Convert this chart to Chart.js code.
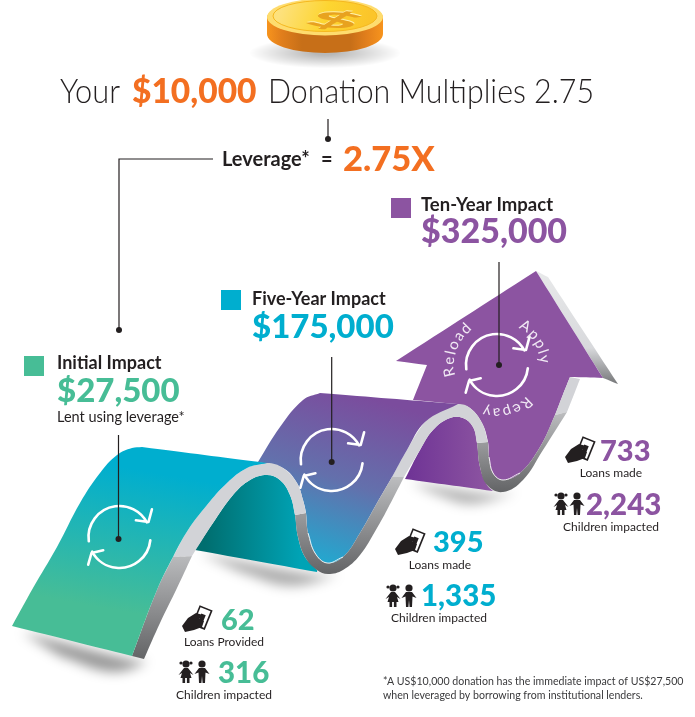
<!DOCTYPE html>
<html>
<head>
<meta charset="utf-8">
<title>Your $10,000 Donation Multiplies 2.75</title>
<style>
  html, body { margin: 0; background: #fff; }
  canvas { display: block; }
</style>
<script src="https://cdn.jsdelivr.net/npm/chart.js@4/dist/chart.umd.js"></script>
</head>
<body>
<canvas id="chart" width="695" height="717"></canvas>
<script>
const donation = 10000;
const multiplier = 2.75;
const stages = ["Initial Impact", "Five-Year Impact", "Ten-Year Impact"];
const impact = [27500, 175000, 325000];
const loans = [62, 395, 733];
const loanLabels = ["Loans Provided", "Loans made", "Loans made"];
const children = [316, 1335, 2243];
const loopWords = ["Reload", "Apply", "Repay"];

// ribbon outlines
const face1Left = [[12,626],[33,588],[57,547],[80,503],[100,473],[117,455],[132,448],[142,447]];
const leg1Inner = [[132,656],[157,590],[173,557]];
const peak1Left = [[173,557],[188,530],[207,505],[227,483],[247,468],[267,463],[283,468],[297,483],[303,500],[306,513]];
const face2Left = [[258,462],[280,427],[303,400],[320,393]];
const trough1Right = [[306,513],[308,533],[315,553],[327,563],[343,557],[360,533],[377,503],[392,477]];
const peak2Left = [[392,477],[407,450],[425,422],[443,408],[458,404],[470,408],[482,423],[488,442]];
const trough2Left = [[488,442],[489,457],[493,473],[503,480],[520,473],[540,447],[555,415]];
const stemLeft = [[555,415],[562,397],[570,377]];
const leg1Under = [[144,659],[160,623],[177,588],[192,556]];
const peak1Under = [[192,556],[213,523],[233,495],[250,480],[267,475],[280,480],[290,495],[295,515]];
const trough1Under = [[295,515],[298,537],[305,557],[317,570],[328,574],[343,570],[360,555],[377,528],[387,510],[404,477]];
const peak2Under = [[404,477],[420,450],[433,430],[450,418],[463,418],[473,427],[477,443]];
const trough2Under = [[477,443],[480,467],[487,485],[503,492],[523,480],[543,450],[567,412]];
const stemUnder = [[567,412],[573,397],[580,379]];
const arrowHead = [[570,377],[603,378],[536,271],[396,361],[427,365],[413,400],[457,404]];
const arrowSide = [[536,271],[548,277],[618,384],[603,378]];
const shadow1 = [[22,632],[132,660],[146,662],[112,672],[60,656]];
const shadow2 = [[200,553],[318,575],[338,574],[290,586],[240,572]];
const shadow3 = [[410,482],[493,494],[515,492],[470,504],[435,494]];
const leaderElbow = [[213,159],[119,159],[119,330]];
const leaderTop = [[328,119],[328,139]];
const leaders = [[[118.5,435],[118.5,539]], [[331.7,357],[331.7,462]], [[499,262],[499,365]]];

const GREEN = "#47bd96", CYAN = "#00aecf", PURPLE = "#8c54a1", ORANGE = "#f36f21", INK = "#231f20";
const LIGHT = "#d2d3d7";
const FONT = "Lato, 'Noto Sans', sans-serif";

const toPoints = pts => pts.map(([x, y]) => ({ x, y }));
const rev = pts => pts.slice().reverse();
// a doubled point gives a hard corner in the spline
const sharp = pts => pts.flatMap(p => [p, p]);
const band = (a, b) => [a[0], ...a, a[a.length - 1], b[b.length - 1], ...rev(b), b[0]];

const grad = (x0, y0, x1, y1, stops) => c => {
  const { x, y } = c.chart.scales;
  if (!c.chart.chartArea || !x || !isFinite(x.getPixelForValue(x0))) return "transparent";
  const g = c.chart.ctx.createLinearGradient(x.getPixelForValue(x0), y.getPixelForValue(y0), x.getPixelForValue(x1), y.getPixelForValue(y1));
  stops.forEach(([o, col]) => g.addColorStop(o, col));
  return g;
};

const shape = (pts, color, order) => ({
  data: toPoints(pts), fill: "shape", backgroundColor: color, borderWidth: 0, pointRadius: 0, tension: 0.4, order
});
const stroke = (pts, color, width, order, dot) => ({
  data: toPoints(pts), fill: false, borderColor: color, borderWidth: width, tension: dot === undefined ? 0.4 : 0, order,
  pointRadius: c => (dot && c.dataIndex === pts.length - 1 ? 3 : 0), pointBackgroundColor: color, pointBorderWidth: 0
});

const darkStrip = (y0, y1) => grad(0, y0, 0, y1, [[0, "#bcbdbf"], [1, "#636466"]]);

// higher order is painted first
const datasets = [
  shape(shadow1, "rgba(0,0,0,.4)", 100),
  shape(shadow2, "rgba(0,0,0,.32)", 99),
  shape(shadow3, "rgba(0,0,0,.3)", 98),
  shape([...sharp([[405,479]]), ...peak2Under.slice(1), [480,467], [487,485], ...sharp([[493,491]]), [405,479]],
    grad(410, 0, 490, 0, [[0, "#703596"], [1, "#8d55a1"]]), 50),
  shape(sharp(arrowSide), grad(0, 271, 0, 384, [[0, "#e8e9ea"], [0.68, "#d8d9dc"], [1, "#77787a"]]), 49),
  shape([...sharp(arrowHead), ...peak2Left.slice(5), ...trough2Left.slice(1), ...stemLeft.slice(1), [570,377]], PURPLE, 48),
  shape(band(stemLeft, stemUnder), LIGHT, 47),
  shape(band(trough2Left, trough2Under), darkStrip(412, 492), 46),
  shape(band(peak2Left, peak2Under), LIGHT, 45),
  shape([...sharp([[258,462]]), ...face2Left.slice(1), ...sharp([[320,393],[458,404]]), ...rev(peak2Left).slice(5), ...rev(trough1Right).slice(1), ...rev(peak1Left).slice(1, 4), [258,462]],
    grad(372, 398, 318, 566, [[0, "#7b4c9d"], [0.5, "#6370ac"], [1, "#1fabd1"]]), 44),
  shape([[195,550], [195,550], ...peak1Under.slice(1), ...trough1Under.slice(1, 4), [317,572], [317,572], [195,550]],
    grad(205, 0, 300, 0, [[0, "#006e6f"], [1, "#00a3b5"]]), 43),
  shape(band(trough1Right, trough1Under), darkStrip(477, 574), 42),
  shape(band(peak1Left, peak1Under), LIGHT, 41),
  shape(band(leg1Inner, leg1Under), darkStrip(553, 659), 40),
  shape([...sharp([face1Left[0]]), ...face1Left.slice(1), ...sharp([[142,447],[267,463]]), ...rev(peak1Left.slice(0, 5)), ...rev(leg1Inner).slice(1, 2), ...sharp([[132,656]]), face1Left[0]],
    grad(140, 470, 115, 610, [[0, CYAN], [1, GREEN]]), 39),
  stroke(trough1Right.slice(1, 5), "rgba(255,255,255,.85)", 1, 20),
  stroke(trough2Left.slice(1, 5), "rgba(255,255,255,.85)", 1, 20),
  stroke(leaderElbow, INK, 1.2, 2, true),
  stroke(leaderTop, INK, 1.2, 2, true),
  ...leaders.map(l => stroke(l, INK, 1.2, 2, true))
];

const money = v => "$" + v.toLocaleString("en-US");

const drawLoop = (ctx, cx, cy) => {
  const r = 31, d = Math.PI / 180;
  ctx.save();
  ctx.strokeStyle = "#fff";
  ctx.lineWidth = 2.6;
  ctx.lineCap = "round";
  ctx.lineJoin = "round";
  ctx.beginPath();
  ctx.arc(cx, cy, r, 172 * d, 332 * d);
  ctx.moveTo(cx + 16.4, cy - 16.7);
  ctx.lineTo(cx + 29, cy - 15);
  ctx.lineTo(cx + 32.4, cy - 27.7);
  ctx.moveTo(cx + r * Math.cos(6 * d), cy + r * Math.sin(6 * d));
  ctx.arc(cx, cy, r, 6 * d, 152 * d);
  ctx.moveTo(cx - 16.3, cy + 13.3);
  ctx.lineTo(cx - 28, cy + 16);
  ctx.lineTo(cx - 31.3, cy + 27.7);
  ctx.stroke();
  ctx.restore();
};

// letters set one by one on a circle, reading clockwise
const arcWord = (ctx, word, cx, cy, r, startDeg) => {
  ctx.save();
  ctx.fillStyle = "#f1e9f4";
  ctx.font = "400 15px " + FONT;
  ctx.textAlign = "left";
  let a = startDeg * Math.PI / 180;
  for (const ch of word) {
    const w = ctx.measureText(ch).width + 1.4;
    ctx.save();
    ctx.translate(cx + r * Math.cos(a), cy + r * Math.sin(a));
    ctx.rotate(a + Math.PI / 2);
    ctx.fillText(ch, 0, 0);
    ctx.restore();
    a += w / r;
  }
  ctx.restore();
};

const drawHand = (ctx, x, y) => {
  ctx.save();
  ctx.translate(x, y);
  ctx.save();
  ctx.translate(20, 10);
  ctx.rotate(22 * Math.PI / 180);
  ctx.fillStyle = INK;
  ctx.fillRect(-7, -11, 14, 21);
  ctx.fillStyle = "#fff";
  ctx.fillRect(-5.4, -9.4, 10.8, 17.8);
  ctx.fillStyle = INK;
  ctx.fillRect(-2.4, -4, 4.8, 7);
  ctx.restore();
  ctx.fillStyle = INK;
  ctx.beginPath();
  ctx.moveTo(0, 18);
  ctx.lineTo(6, 10);
  ctx.lineTo(14, 5);
  ctx.lineTo(21, 7);
  ctx.lineTo(17, 11);
  ctx.lineTo(22, 13);
  ctx.lineTo(20, 19);
  ctx.lineTo(12, 22);
  ctx.lineTo(3, 24);
  ctx.closePath();
  ctx.fill();
  ctx.restore();
};

const drawKids = (ctx, x, y) => {
  ctx.save();
  ctx.translate(x, y);
  ctx.fillStyle = INK;
  // girl
  ctx.beginPath();
  ctx.arc(8, 4, 3.6, 0, 7);
  ctx.fill();
  ctx.beginPath();
  ctx.arc(3, 3, 1.6, 0, 7);
  ctx.fill();
  ctx.beginPath();
  ctx.arc(13, 3, 1.6, 0, 7);
  ctx.fill();
  ctx.beginPath();
  ctx.moveTo(6, 8);
  ctx.lineTo(10, 8);
  ctx.lineTo(15.5, 15);
  ctx.lineTo(12, 13);
  ctx.lineTo(13.5, 18);
  ctx.lineTo(2.5, 18);
  ctx.lineTo(4, 13);
  ctx.lineTo(0.5, 15);
  ctx.closePath();
  ctx.fill();
  ctx.fillRect(4.5, 18, 2.6, 5);
  ctx.fillRect(8.9, 18, 2.6, 5);
  // boy
  ctx.beginPath();
  ctx.arc(24, 4, 3.6, 0, 7);
  ctx.fill();
  ctx.beginPath();
  ctx.moveTo(21, 8);
  ctx.lineTo(27, 8);
  ctx.lineTo(31.5, 14);
  ctx.lineTo(27.5, 12.5);
  ctx.lineTo(27, 23);
  ctx.lineTo(24.6, 23);
  ctx.lineTo(24, 16);
  ctx.lineTo(23.4, 23);
  ctx.lineTo(21, 23);
  ctx.lineTo(20.5, 12.5);
  ctx.lineTo(16.5, 14);
  ctx.closePath();
  ctx.fill();
  ctx.restore();
};

const drawCoin = (ctx) => {
  const cx = 325, rx = 58;
  ctx.save();
  // soft shadow on the page
  ctx.save();
  ctx.translate(cx, 53);
  ctx.scale(1, 0.2);
  const sh = ctx.createRadialGradient(0, 0, 10, 0, 0, 76);
  sh.addColorStop(0, "rgba(0,0,0,.28)");
  sh.addColorStop(1, "rgba(0,0,0,0)");
  ctx.fillStyle = sh;
  ctx.fillRect(-80, -80, 160, 160);
  ctx.restore();
  // rim
  const rim = ctx.createLinearGradient(cx - rx, 0, cx + rx, 0);
  [[0, "#f7941d"], [0.12, "#e27f1c"], [0.3, "#c76f18"], [0.72, "#c76f18"], [0.86, "#e27f1c"], [1, "#f7941d"]].forEach(([o, c]) => rim.addColorStop(o, c));
  ctx.fillStyle = rim;
  ctx.beginPath();
  ctx.ellipse(cx, 18, rx, 18, 0, Math.PI, 0);
  ctx.lineTo(cx + rx, 34);
  ctx.ellipse(cx, 34, rx, 19, 0, 0, Math.PI);
  ctx.closePath();
  ctx.fill();
  // face
  ctx.fillStyle = "#fedc6e";
  ctx.beginPath();
  ctx.ellipse(cx, 17, rx, 18.5, 0, 0, 7);
  ctx.fill();
  const face = ctx.createLinearGradient(cx - 40, 0, cx + 40, 30);
  face.addColorStop(0, "#fde17c");
  face.addColorStop(0.5, "#fdd531");
  face.addColorStop(1, "#fbc52a");
  ctx.fillStyle = face;
  ctx.strokeStyle = "#f5b81f";
  ctx.lineWidth = 1;
  ctx.beginPath();
  ctx.ellipse(cx, 16, rx - 6, 15.5, 0, 0, 7);
  ctx.fill();
  ctx.stroke();
  // dollar sign, lying flat on the coin
  ctx.transform(2.9, 0.32, -0.75, 0.66, cx + 1, 27);
  ctx.font = "700 30px " + FONT;
  ctx.textAlign = "center";
  ctx.fillStyle = "#fff0a8";
  ctx.fillText("$", 0, -1.2);
  ctx.fillStyle = "#e8a21f";
  ctx.fillText("$", 0.3, 0.4);
  ctx.restore();
};

const put = (ctx, text, x, y, font, color, align, maxWidth) => {
  ctx.font = font;
  ctx.fillStyle = color;
  ctx.textAlign = align || "left";
  if (maxWidth) ctx.fillText(text, x, y, maxWidth);
  else ctx.fillText(text, x, y);
};

const artwork = {
  id: "artwork",
  beforeDatasetsDraw(chart) {
    // the three shadows come first and are blurred
    chart.ctx.filter = "blur(6px)";
  },
  afterDatasetDraw(chart, args) {
    if (args.index === 2) chart.ctx.filter = "none";
    // the loops sit between the ribbon and the leader lines
    if (args.index === datasets.length - 7) {
      const { x, y } = chart.scales;
      [[119.5, 537], [331.7, 460], [497, 365]].forEach(([a, b]) => drawLoop(chart.ctx, x.getPixelForValue(a), y.getPixelForValue(b)));
    }
  },
  afterDatasetsDraw(chart) {
    const ctx = chart.ctx;
    ctx.save();
    ctx.textBaseline = "alphabetic";
    drawCoin(ctx);

    // title, three runs of text squeezed to the widths of the original face
    put(ctx, "Your", 60, 103, `300 33px ${FONT}`, INK, "left", 60);
    put(ctx, money(donation), 132, 103, `900 33.5px ${FONT}`, ORANGE, "left", 125);
    put(ctx, `Donation Multiplies ${multiplier}`, 268, 103, `300 33px ${FONT}`, INK, "left", 326);

    put(ctx, "Leverage*", 222, 166, `700 20px ${FONT}`, INK);
    put(ctx, "=", 321, 166, `700 20px ${FONT}`, INK);
    put(ctx, multiplier + "X", 343, 171, `900 34.5px ${FONT}`, ORANGE);

    const squares = [[24, 356, GREEN], [221, 290, CYAN], [391, 198, PURPLE]];
    const heads = [[57, 369, 402], [252, 305, 338], [421, 211, 243]];
    const headSize = [18, 18, 18.5];
    const amountSize = [33, 33, 34];
    squares.forEach(([x, y, c]) => { ctx.fillStyle = c; ctx.fillRect(x, y, 20, 20); });
    heads.forEach(([x, y0, y1], i) => {
      put(ctx, stages[i], x, y0, `700 ${headSize[i]}px ${FONT}`, INK);
      put(ctx, money(impact[i]), x, y1, `900 ${amountSize[i]}px ${FONT}`, squares[i][2]);
    });
    put(ctx, "Lent using leverage*", 57, 422, `400 14.5px ${FONT}`, INK);

    arcWord(ctx, loopWords[0], 497, 365, 43, 166);
    arcWord(ctx, loopWords[1], 497, 365, 43, -60);
    arcWord(ctx, loopWords[2], 497, 365, 43, 46);

    // loans and children under each stage
    const loanPos = [[221, 630, 224, 646], [433, 552, 440, 569], [600, 461, 611, 477]];
    const kidPos = [[218, 683, 224, 699], [421, 606, 439, 622], [586, 515, 611, 531]];
    const handPos = [[182, 608], [395, 531], [565, 439]];
    const kidIcon = [[178, 660], [385, 584], [553, 492]];
    loans.forEach((v, i) => {
      const c = squares[i][2];
      const [a, b, d, e] = loanPos[i];
      put(ctx, v.toLocaleString("en-US"), a, b, `900 29px ${FONT}`, c);
      put(ctx, loanLabels[i], d, e, `400 12px ${FONT}`, INK, "center");
      const [f, g, h, k] = kidPos[i];
      put(ctx, children[i].toLocaleString("en-US"), f, g, `900 29.5px ${FONT}`, c);
      put(ctx, "Children impacted", h, k, `400 12px ${FONT}`, INK, "center");
      drawHand(ctx, handPos[i][0], handPos[i][1]);
      drawKids(ctx, kidIcon[i][0], kidIcon[i][1]);
    });

    put(ctx, `*A US${money(donation)} donation has the immediate impact of US${money(impact[0])}`, 383, 685, `400 10.6px ${FONT}`, "#3a3a3c");
    put(ctx, "when leveraged by borrowing from institutional lenders.", 383, 699, `400 10.6px ${FONT}`, "#3a3a3c");
    ctx.restore();
  }
};

new Chart(document.getElementById("chart"), {
  type: "line",
  data: { datasets },
  options: {
    responsive: false,
    animation: false,
    events: [],
    // no room for point overflow: the axes must span the whole canvas
    layout: { padding: 0, autoPadding: false },
    scales: {
      x: { type: "linear", min: 0, max: 695, display: false },
      y: { type: "linear", min: 0, max: 717, reverse: true, display: false }
    },
    plugins: { legend: { display: false }, tooltip: { enabled: false } }
  },
  plugins: [artwork]
});
</script>
</body>
</html>
